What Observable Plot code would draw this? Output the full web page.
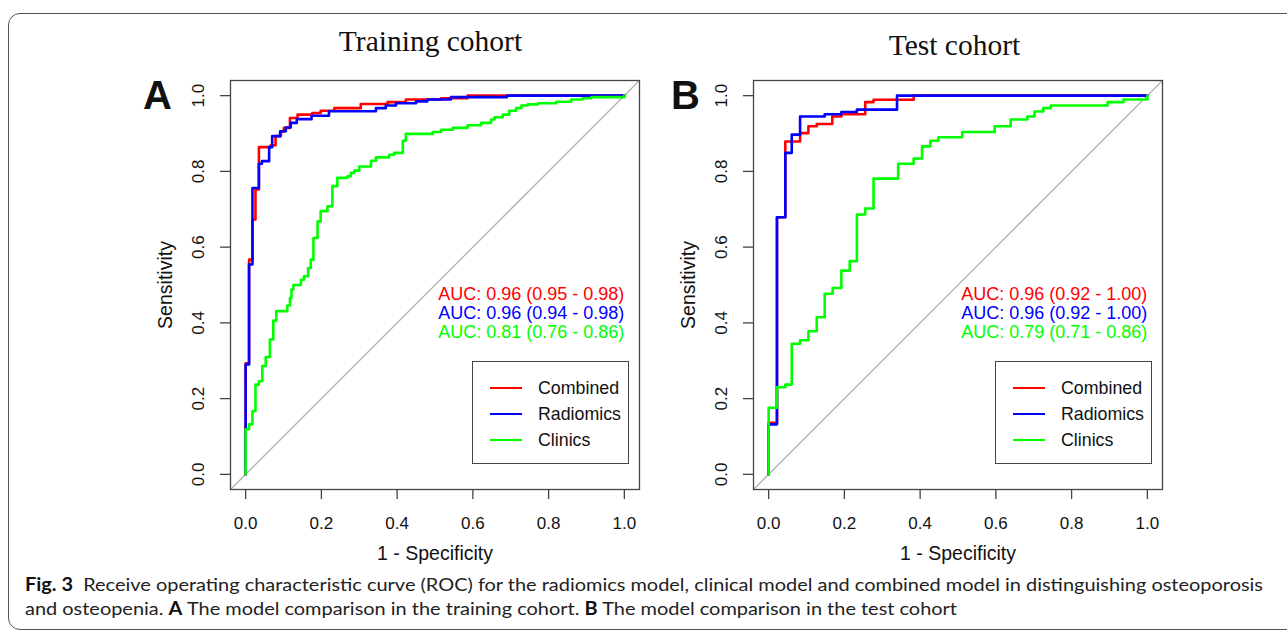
<!DOCTYPE html>
<html>
<head>
<meta charset="utf-8">
<script src="https://cdn.jsdelivr.net/npm/d3@7"></script>
<script src="https://cdn.jsdelivr.net/npm/@observablehq/plot@0.6"></script>
<style>
  html, body { margin: 0; padding: 0; background: #fff; }
  body { width: 1287px; height: 634px; position: relative; overflow: hidden; font-family: "Liberation Sans", Arial, sans-serif; }
  .abs { position: absolute; white-space: nowrap; }
  .border { position: absolute; left: 8px; top: 13px; width: 1320px; height: 617px; border: 1.2px solid #555; border-radius: 12px; box-sizing: border-box; }
  .title { font-family: "Liberation Serif", "Times New Roman", serif; font-size: 29.5px; line-height: 29.5px; color: #111; transform: translateX(-50%); }
  .letter { font-weight: bold; font-size: 40px; line-height: 40px; color: #111; }
  .legend { position: absolute; border: 1.3px solid #444; box-sizing: border-box; background: #fff; }
  .legend .row { position: absolute; left: 0; height: 20px; font-size: 17.8px; line-height: 20px; color: #111; }
  .legend .sw { position: absolute; left: 17px; top: 9px; width: 32px; height: 1.5px; }
  .legend .lab { position: absolute; left: 65px; top: 0; }
  .caption { position: absolute; left: 25px; font-family: Lato, "Open Sans", sans-serif; font-size: 18px; line-height: 18px; color: #222; transform-origin: 0 0; white-space: nowrap; }
</style>
</head>
<body>
<div class="border"></div>
<div id="root"></div>
<script>
// ---------------- data ----------------
const seriesNames = ["Combined", "Radiomics", "Clinics"];
const seriesColors = ["#ff0000", "#0000ff", "#00ff00"];
const axisTicks = [0, 0.2, 0.4, 0.6, 0.8, 1.0];

// ROC points [1 - specificity, sensitivity] — training cohort
const trainCombined = [[0,0],[0,0.293],[0.009,0.567],[0.018,0.673],[0.026,0.752],[0.035,0.864],[0.066,0.869],[0.079,0.893],[0.093,0.905],[0.101,0.915],[0.117,0.941],[0.137,0.95],[0.176,0.954],[0.198,0.96],[0.234,0.967],[0.304,0.978],[0.375,0.983],[0.423,0.99],[0.516,0.993],[0.586,1],[1,1]];
const trainRadiomics = [[0,0],[0,0.29],[0.009,0.554],[0.018,0.756],[0.035,0.82],[0.043,0.827],[0.062,0.864],[0.07,0.893],[0.091,0.906],[0.106,0.916],[0.119,0.928],[0.135,0.938],[0.174,0.947],[0.22,0.959],[0.344,0.967],[0.37,0.974],[0.397,0.98],[0.45,0.985],[0.48,0.99],[0.542,0.996],[0.69,1],[1,1]];
const trainClinics = [[0,0],[0,0.119],[0.009,0.132],[0.018,0.167],[0.026,0.237],[0.035,0.246],[0.044,0.286],[0.053,0.31],[0.064,0.356],[0.073,0.406],[0.081,0.431],[0.11,0.446],[0.117,0.466],[0.121,0.488],[0.126,0.5],[0.146,0.514],[0.154,0.523],[0.165,0.545],[0.172,0.567],[0.179,0.624],[0.19,0.668],[0.198,0.695],[0.216,0.708],[0.229,0.761],[0.242,0.783],[0.269,0.787],[0.278,0.796],[0.287,0.802],[0.3,0.813],[0.331,0.828],[0.344,0.837],[0.379,0.844],[0.392,0.849],[0.415,0.881],[0.423,0.899],[0.494,0.904],[0.516,0.91],[0.547,0.915],[0.586,0.922],[0.622,0.928],[0.648,0.937],[0.657,0.943],[0.679,0.95],[0.696,0.96],[0.714,0.967],[0.728,0.974],[0.745,0.977],[0.772,0.98],[0.82,0.984],[0.86,0.99],[0.89,0.993],[0.913,0.996],[1,1]];

// ROC points — test cohort
const testCombined = [[0,0],[0,0.136],[0.022,0.679],[0.044,0.879],[0.083,0.901],[0.105,0.919],[0.127,0.925],[0.168,0.945],[0.192,0.951],[0.255,0.983],[0.277,0.989],[0.383,1],[1,1]];
const testRadiomics = [[0,0],[0,0.132],[0.022,0.679],[0.044,0.849],[0.061,0.897],[0.083,0.945],[0.148,0.951],[0.192,0.957],[0.233,0.963],[0.339,1],[1,1]];
const testClinics = [[0,0],[0,0.176],[0.022,0.23],[0.044,0.237],[0.061,0.345],[0.083,0.354],[0.105,0.378],[0.127,0.415],[0.148,0.477],[0.169,0.492],[0.192,0.538],[0.214,0.563],[0.233,0.686],[0.255,0.702],[0.277,0.781],[0.342,0.82],[0.383,0.834],[0.405,0.866],[0.427,0.881],[0.448,0.89],[0.511,0.904],[0.597,0.919],[0.639,0.937],[0.683,0.945],[0.702,0.958],[0.725,0.967],[0.745,0.974],[0.895,0.983],[0.937,0.99],[1,1]];

const trainAUC = ["AUC: 0.96 (0.95 - 0.98)", "AUC: 0.96 (0.94 - 0.98)", "AUC: 0.81 (0.76 - 0.86)"];
const testAUC  = ["AUC: 0.96 (0.92 - 1.00)", "AUC: 0.96 (0.92 - 1.00)", "AUC: 0.79 (0.71 - 0.86)"];

const panelTitles = ["Training cohort", "Test cohort"];
const panelLetters = ["A", "B"];
const xLabel = "1 - Specificity";
const yLabel = "Sensitivity";
const captionLine1 = ["Fig. 3", "  Receive operating characteristic curve (ROC) for the radiomics model, clinical model and combined model in distinguishing osteoporosis"];
const captionLine2 = ["and osteopenia. ", "A", " The model comparison in the training cohort. ", "B", " The model comparison in the test cohort"];

// ---------------- drawing ----------------
const root = document.getElementById("root");
const dom = [-0.04, 1.04];
const ink = "#444";

function panel(curves, aucs) {
  const diag = dom.map(v => ({v}));
  return Plot.plot({
    width: 530, height: 520,
    marginLeft: 100, marginRight: 21, marginTop: 20, marginBottom: 91,
    x: {domain: dom, label: null},
    y: {domain: dom, label: null},
    style: {fontFamily: "'Liberation Sans', Arial, sans-serif", fontSize: "17px", background: "transparent", color: "#111", overflow: "visible"},
    marks: [
      Plot.line(diag, {x: "v", y: "v", stroke: "#b0b0b0", strokeWidth: 1.3}),
      ...curves.map((c, i) => Plot.line(c, {x: d => d[0], y: d => d[1], stroke: seriesColors[i], strokeWidth: 2.6, curve: "step-after"})),
      Plot.frame({stroke: ink, strokeWidth: 1.3}),
      Plot.axisX(axisTicks, {tickSize: 10, tickFormat: () => "", label: null, stroke: ink, strokeWidth: 1.3}),
      Plot.axisY(axisTicks, {tickSize: 10, tickFormat: () => "", label: null, stroke: ink, strokeWidth: 1.3}),
      Plot.text(axisTicks, {x: d => d, frameAnchor: "bottom", dy: 34, textAnchor: "middle", lineAnchor: "middle", text: d => d.toFixed(1), fill: "#111", fontSize: 17}),
      Plot.text(axisTicks, {y: d => d, frameAnchor: "left", dx: -32, rotate: -90, textAnchor: "middle", lineAnchor: "middle", text: d => d.toFixed(1), fill: "#111", fontSize: 17}),
      Plot.text([xLabel], {frameAnchor: "bottom", dy: 64, textAnchor: "middle", lineAnchor: "middle", text: d => d, fill: "#111", fontSize: 19.5}),
      Plot.text([yLabel], {frameAnchor: "left", dx: -65, rotate: -90, textAnchor: "middle", lineAnchor: "middle", text: d => d, fill: "#111", fontSize: 19.5}),
      Plot.text(aucs, {x: 1, y: (d, i) => 0.475 - i * 0.05, text: d => d, textAnchor: "end", fill: (d, i) => seriesColors[i], fontSize: 18})
    ]
  });
}

const panels = [
  {left: 130, curves: [trainCombined, trainRadiomics, trainClinics], aucs: trainAUC},
  {left: 653, curves: [testCombined, testRadiomics, testClinics], aucs: testAUC}
];

panels.forEach((p, k) => {
  const wrap = document.createElement("div");
  wrap.className = "abs";
  wrap.style.left = p.left + "px";
  wrap.style.top = "60px";
  wrap.appendChild(panel(p.curves, p.aucs));
  root.appendChild(wrap);

  // legend box
  const lg = document.createElement("div");
  lg.className = "legend";
  lg.style.left = (p.left + 342) + "px";
  lg.style.top = "361px";
  lg.style.width = "157px";
  lg.style.height = "103px";
  seriesNames.forEach((n, i) => {
    const row = document.createElement("div");
    row.className = "row";
    row.style.top = (16 + i * 26) + "px";
    row.style.width = "100%";
    const sw = document.createElement("div");
    sw.className = "sw";
    sw.style.background = seriesColors[i];
    const lab = document.createElement("div");
    lab.className = "lab";
    lab.textContent = n;
    row.appendChild(sw); row.appendChild(lab);
    lg.appendChild(row);
  });
  root.appendChild(lg);
});

// titles and panel letters
const titlePos = [{x: 430.5, top: 26.8}, {x: 954.5, top: 31.3}];
panelTitles.forEach((t, i) => {
  const d = document.createElement("div");
  d.className = "abs title";
  d.style.left = titlePos[i].x + "px";
  d.style.top = titlePos[i].top + "px";
  d.textContent = t;
  root.appendChild(d);
});
const letterPos = [143, 671];
panelLetters.forEach((t, i) => {
  const d = document.createElement("div");
  d.className = "abs letter";
  d.style.left = letterPos[i] + "px";
  d.style.top = "75px";
  d.textContent = t;
  root.appendChild(d);
});

// caption
function capLine(parts, boldIdx, top) {
  const d = document.createElement("div");
  d.className = "caption";
  d.style.top = top + "px";
  parts.forEach((s, i) => {
    const sp = document.createElement("span");
    sp.textContent = s;
    sp.style.whiteSpace = "pre";
    if (boldIdx.includes(i)) { sp.style.fontWeight = "bold"; sp.style.color = "#111"; }
    d.appendChild(sp);
  });
  root.appendChild(d);
  return d;
}
const c1 = capLine(captionLine1, [0], 575);
const c2 = capLine(captionLine2, [1, 3], 599);
const target = 1238;
const w = c1.getBoundingClientRect().width;
const s = target / w;
c1.style.transform = `scaleX(${s})`;
c2.style.transform = `scaleX(${s})`;
</script>
</body>
</html>
